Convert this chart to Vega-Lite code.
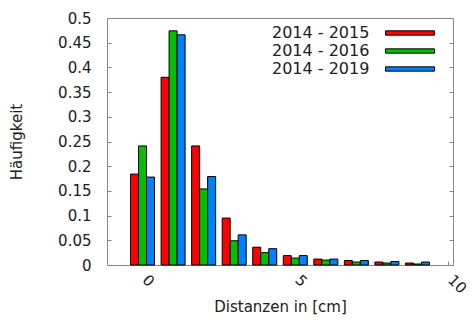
{
  "$schema": "https://vega.github.io/schema/vega-lite/v6.json",
  "width": 346,
  "height": 247,
  "autosize": "none",
  "padding": {"left": 107, "top": 18, "right": 22, "bottom": 57},
  "background": "white",
  "config": {
    "font": "DejaVu Sans",
    "view": {"stroke": "#888888", "strokeWidth": 1},
    "axis": {
      "grid": false,
      "domain": false,
      "tickColor": "#888888",
      "tickSize": -4,
      "labelFont": "DejaVu Sans",
      "labelFontSize": 15,
      "labelColor": "#202020",
      "titleFont": "DejaVu Sans",
      "titleFontSize": 15,
      "titleFontWeight": "normal",
      "titleColor": "#202020"
    },
    "bar": {"width": 8, "stroke": "black", "strokeWidth": 1}
  },
  "data": {
    "values": [
      {"d": 0, "s": "2014 - 2015", "h": 0.184},
      {"d": 0, "s": "2014 - 2016", "h": 0.241},
      {"d": 0, "s": "2014 - 2019", "h": 0.178},
      {"d": 1, "s": "2014 - 2015", "h": 0.380},
      {"d": 1, "s": "2014 - 2016", "h": 0.474},
      {"d": 1, "s": "2014 - 2019", "h": 0.466},
      {"d": 2, "s": "2014 - 2015", "h": 0.241},
      {"d": 2, "s": "2014 - 2016", "h": 0.154},
      {"d": 2, "s": "2014 - 2019", "h": 0.179},
      {"d": 3, "s": "2014 - 2015", "h": 0.095},
      {"d": 3, "s": "2014 - 2016", "h": 0.049},
      {"d": 3, "s": "2014 - 2019", "h": 0.061},
      {"d": 4, "s": "2014 - 2015", "h": 0.036},
      {"d": 4, "s": "2014 - 2016", "h": 0.025},
      {"d": 4, "s": "2014 - 2019", "h": 0.033},
      {"d": 5, "s": "2014 - 2015", "h": 0.019},
      {"d": 5, "s": "2014 - 2016", "h": 0.014},
      {"d": 5, "s": "2014 - 2019", "h": 0.019},
      {"d": 6, "s": "2014 - 2015", "h": 0.012},
      {"d": 6, "s": "2014 - 2016", "h": 0.010},
      {"d": 6, "s": "2014 - 2019", "h": 0.012},
      {"d": 7, "s": "2014 - 2015", "h": 0.009},
      {"d": 7, "s": "2014 - 2016", "h": 0.006},
      {"d": 7, "s": "2014 - 2019", "h": 0.009},
      {"d": 8, "s": "2014 - 2015", "h": 0.006},
      {"d": 8, "s": "2014 - 2016", "h": 0.004},
      {"d": 8, "s": "2014 - 2019", "h": 0.007},
      {"d": 9, "s": "2014 - 2015", "h": 0.004},
      {"d": 9, "s": "2014 - 2016", "h": 0.002},
      {"d": 9, "s": "2014 - 2019", "h": 0.006}
    ]
  },
  "resolve": {"axis": {"y": "independent"}},
  "layer": [
    {
      "encoding": {
        "x": {
          "field": "d",
          "type": "quantitative",
          "scale": {"domain": [-1, 10], "nice": false, "zero": false},
          "axis": {
            "values": [0, 5, 10],
            "labelAngle": 45,
            "labelAlign": "left",
            "labelBaseline": "top",
            "labelFlush": false,
            "labelBound": false,
            "labelOverlap": false,
            "labelPadding": 11,
            "labelOffset": 7,
            "title": "Distanzen in [cm]",
            "titlePadding": 3
          }
        },
        "y": {
          "field": "h",
          "type": "quantitative",
          "stack": null,
          "scale": {"domain": [0, 0.5], "nice": false},
          "axis": {
            "values": [0, 0.05, 0.1, 0.15, 0.2, 0.25, 0.3, 0.35, 0.4, 0.45, 0.5],
            "format": "~g",
            "labelPadding": 20,
            "title": "Häufigkeit",
            "titlePadding": 33
          }
        },
        "color": {
          "field": "s",
          "type": "nominal",
          "scale": {"domain": ["2014 - 2015", "2014 - 2016", "2014 - 2019"], "range": ["#ff0000", "#00c000", "#0080ff"]},
          "legend": {
            "orient": "none",
            "legendX": 160,
            "legendY": 7,
            "title": null,
            "padding": 0,
            "symbolType": "M-4.9,-0.43H4.9V0.43H-4.9Z",
            "symbolSize": 100,
            "symbolStrokeColor": "black",
            "symbolStrokeWidth": 1,
            "symbolOpacity": 1,
            "symbolOffset": 135,
            "labelOffset": -146,
            "labelFont": "DejaVu Sans",
            "labelFontSize": 16,
            "labelColor": "#202020",
            "rowPadding": 2
          }
        }
      },
      "layer": [
        {
          "transform": [{"filter": "datum.s === '2014 - 2015'"}],
          "mark": {"type": "bar", "xOffset": -8}
        },
        {
          "transform": [{"filter": "datum.s === '2014 - 2016'"}],
          "mark": {"type": "bar", "xOffset": 0}
        },
        {
          "transform": [{"filter": "datum.s === '2014 - 2019'"}],
          "mark": {"type": "bar", "xOffset": 8}
        }
      ]
    },
    {
      "mark": {"type": "tick", "opacity": 0, "color": "black"},
      "encoding": {
        "x": {"field": "d", "type": "quantitative"},
        "y": {
          "field": "h",
          "type": "quantitative",
          "stack": null,
          "scale": {"domain": [0, 0.5], "nice": false},
          "axis": {
            "orient": "right",
            "values": [0, 0.05, 0.1, 0.15, 0.2, 0.25, 0.3, 0.35, 0.4, 0.45, 0.5],
            "labels": false,
            "title": null
          }
        }
      }
    }
  ]
}
